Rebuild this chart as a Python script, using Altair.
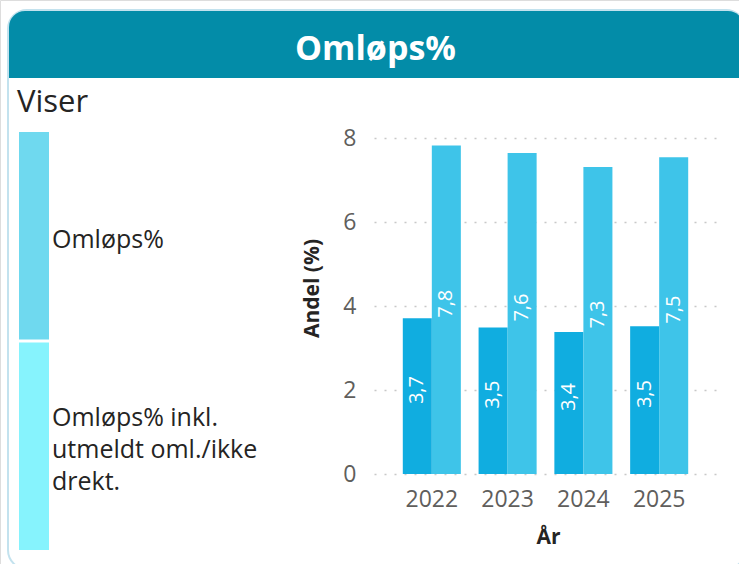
import altair as alt
import pandas as pd

# ---- data ----
years = ["2022", "2023", "2024", "2025"]
series = ["Omløps%", "Omløps% inkl. utmeldt oml./ikke drekt."]
omlop = [3.71, 3.49, 3.38, 3.52]
omlop_inkl = [7.82, 7.64, 7.31, 7.54]
y_ticks = [0, 2, 4, 6, 8]
slicer_lines = ["Omløps%", "Omløps% inkl.\nutmeldt oml./ikke\ndrekt."]

title_text = "Omløps%"
slicer_title = "Viser"
x_title = "År"
y_title = "Andel (%)"

# ---- styles ----
bar_colors = ["#10ADE0", "#3EC4E9"]
slicer_colors = ["#6FD9EF", "#86F3FD"]
FONT = "Open Sans"
W, H = 739, 564
LINE_H = 32

rows = []
for s, vals in zip(series, [omlop, omlop_inkl]):
    for yr, v in zip(years, vals):
        rows.append({"year": yr, "series": s, "value": v})
bars_df = pd.DataFrame(rows)
slicer_df = pd.DataFrame({"series": series, "lines": slicer_lines})
one = alt.Data(values=[{"k": 1}])

# ---- decorations ----
card = alt.Chart(one).mark_rect(
    fillOpacity=0, stroke="#C3E2EE", strokeWidth=2, cornerRadius=19
).encode(x=alt.value(8), x2=alt.value(745), y=alt.value(10), y2=alt.value(569))

header = alt.Chart(one).mark_rect(
    fill="#038CA8", cornerRadiusTopLeft=16, cornerRadiusTopRight=16
).encode(x=alt.value(9), x2=alt.value(744), y=alt.value(11), y2=alt.value(78))

header_text = alt.Chart(one).mark_text(
    font=FONT, fontSize=34, fontWeight="bold", color="white",
    align="center", baseline="alphabetic"
).encode(x=alt.value(375.5), y=alt.value(60), text=alt.value(title_text))

viser_text = alt.Chart(one).mark_text(
    font=FONT, fontSize=31, color="#252423", align="left", baseline="alphabetic"
).encode(x=alt.value(17), y=alt.value(112), text=alt.value(slicer_title))

# ---- slicer (left) ----
slicer_y = alt.Y("series:N", sort=series,
                 scale=alt.Scale(range=[132, 550], paddingInner=0.0144, paddingOuter=0),
                 axis=None)
slicer_rect = alt.Chart(slicer_df).mark_rect().encode(
    y=slicer_y, x=alt.value(19), x2=alt.value(49),
    color=alt.Color("series:N", scale=alt.Scale(domain=series, range=slicer_colors), legend=None),
)
slicer_txt_layers = []
for s, txt in zip(series, slicer_lines):
    n = txt.count("\n") + 1
    slicer_txt_layers.append(
        alt.Chart(slicer_df).transform_filter(alt.datum.series == s).mark_text(
            font=FONT, fontSize=25, color="#252423", align="left", baseline="middle",
            lineBreak="\n", lineHeight=LINE_H, dy=4 - (n - 1) * LINE_H / 2
        ).encode(y=slicer_y, x=alt.value(52), text="lines:N")
    )
slicer = alt.layer(slicer_rect, *slicer_txt_layers)

# ---- bar chart (right) ----
x_enc = alt.X(
    "year:N", sort=years,
    scale=alt.Scale(range=[374, 717], paddingInner=0.234, paddingOuter=0.38),
    axis=alt.Axis(
        title=x_title, orient="bottom", offset=-(H - 474), grid=False, domain=False,
        ticks=False, labelAngle=0, labelPadding=14, labelFont=FONT, labelFontSize=23,
        labelColor="#605E5C", titleFont=FONT, titleFontSize=21, titleFontWeight="bold",
        titleColor="#252423", titleX=548, titleY=69, titleBaseline="alphabetic",
        titleAlign="center",
    ),
)
y_scale = alt.Scale(domain=[0, 8], range=[474, 138], nice=False, zero=True)
y_enc = alt.Y(
    "value:Q", scale=y_scale,
    axis=alt.Axis(
        title=y_title, values=y_ticks, format="d", orient="left", offset=-374, grid=True,
        gridDash=[2, 8], gridColor="#C8C8C8", gridWidth=1.5, domain=False, ticks=False,
        labelPadding=18, labelFont=FONT, labelFontSize=23, labelColor="#605E5C",
        titleFont=FONT, titleFontSize=21, titleFontWeight="bold", titleColor="#252423",
        titleAngle=270, titleX=-56, titleY=288, titleBaseline="alphabetic",
        titleAlign="center",
    ),
)
xoff = alt.XOffset("series:N", sort=series)

bars = alt.Chart(bars_df).mark_bar().encode(
    x=x_enc, xOffset=xoff, y=y_enc,
    color=alt.Color("series:N", scale=alt.Scale(domain=series, range=bar_colors), legend=None),
)
labels = alt.Chart(bars_df).transform_calculate(
    mid="datum.value / 2",
    label="replace(format(datum.value, '.1f'), '.', ',')",
).mark_text(
    font=FONT, fontSize=20, color="white", angle=270, align="center",
    baseline="middle", dx=6
).encode(
    x=alt.X("year:N", sort=years), xOffset=xoff,
    y=alt.Y("mid:Q", scale=y_scale), text="label:N",
)
plot = alt.layer(bars, labels)

chart = alt.layer(card, header, header_text, viser_text, slicer, plot).resolve_scale(
    y="independent", color="independent"
).properties(
    width=W, height=H, padding=0, autosize=alt.AutoSizeParams(type="none")
).configure_view(stroke=None).configure(background="white")

chart.save("out.html", embed_options={"renderer": "svg", "actions": False})
